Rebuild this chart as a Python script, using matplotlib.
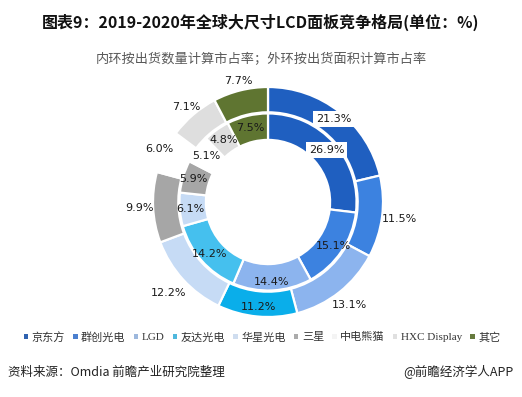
import numpy as np
import matplotlib
matplotlib.use("Agg")
import matplotlib.pyplot as plt
from matplotlib.patches import Patch

plt.rcParams['font.family'] = ['Noto Sans CJK SC', 'DejaVu Sans']

# ---------------- data ----------------
companies = ['京东方', '群创光电', 'LGD', '友达光电', '华星光电', '三星', '中电熊猫', 'HXC Display', '其它']
inner_share = [26.9, 15.1, 14.4, 14.2, 6.1, 5.9, 5.1, 4.8, 7.5]     # by shipment quantity
outer_share = [21.3, 11.5, 13.1, 11.2, 12.2, 9.9, 6.0, 7.1, 7.7]    # by shipment area

title = '图表9：2019-2020年全球大尺寸LCD面板竞争格局(单位：%)'
subtitle = '内环按出货数量计算市占率；外环按出货面积计算市占率'
source = '资料来源：Omdia 前瞻产业研究院整理'
credit = '@前瞻经济学人APP'

# ---------------- style ----------------
outer_colors = ['#1F5FC0', '#3C82E0', '#8CB4EE', '#0AAEEA', '#C6DBF5',
                '#A6A6A6', '#FFFFFF', '#DEDEDE', '#5F7531']
inner_colors = ['#1F5FC0', '#3C82E0', '#8CB4EE', '#45C0EE', '#C6DBF5',
                '#A6A6A6', '#FFFFFF', '#DEDEDE', '#5F7531']
legend_colors = ['#2F62B0', '#4A7FCF', '#9DB8DD', '#4FB8DD', '#CFDDEF',
                 '#ABABAB', '#F4F4F4', '#E0E0E0', '#667A3E']
outer_label_r = [0.92, 1.15, 1.14, 0.92, 1.17, 1.12, 1.05, 1.09, 1.08]
inner_label_r = [0.68, 0.69, 0.70, 0.68, 0.68, 0.68, 0.67, 0.66, 0.66]
boxed_outer = [True] + [False] * 8
boxed_inner = [True] + [False] * 8

W, H = 522, 397
fig = plt.figure(figsize=(W / 100, H / 100), dpi=100)
fig.patch.set_facecolor('white')

cx, cy, R = 268, 202, 115
ax = fig.add_axes([(cx - R) / W, (H - cy - R) / H, 2 * R / W, 2 * R / H])
ax.set_xlim(-1, 1)
ax.set_ylim(-1, 1)
ax.set_aspect('equal')
ax.axis('off')

wp = dict(edgecolor='white', linewidth=1.6)
ax.pie(outer_share, radius=1.0, colors=outer_colors, startangle=90, counterclock=False,
       wedgeprops=dict(width=0.22, **wp))
ax.pie(inner_share, radius=0.77, colors=inner_colors, startangle=90, counterclock=False,
       wedgeprops=dict(width=0.23, **wp))
ax.set_xlim(-1, 1)
ax.set_ylim(-1, 1)


def put_labels(values, radii, boxed):
    total = float(sum(values))
    cum = np.cumsum([0] + list(values))
    for i, v in enumerate(values):
        mid = (cum[i] + cum[i + 1]) / 2 / total * 360.0
        ang = np.deg2rad(90 - mid)
        x, y = radii[i] * np.cos(ang), radii[i] * np.sin(ang)
        kw = {}
        if boxed[i]:
            kw['bbox'] = dict(boxstyle='square,pad=0.25', facecolor='white', edgecolor='none')
        ax.text(x, y, f'{v:.1f}%', ha='center', va='center', fontsize=8,
                family=['DejaVu Sans'], color='#1a1a1a', clip_on=False, **kw)


put_labels(outer_share, outer_label_r, boxed_outer)
put_labels(inner_share, inner_label_r, boxed_inner)

fig.text(0.5, 1 - 22 / H, title, ha='center', va='center', fontsize=11.5,
         fontweight='bold', color='#111111')
fig.text(0.5, 1 - 60 / H, subtitle, ha='center', va='center', fontsize=9.5,
         color='#595959')

handles = [Patch(facecolor=c, edgecolor='none') for c in legend_colors]
fig.legend(handles, companies, loc='center', bbox_to_anchor=(0.502, 1 - 337 / H),
           ncol=9, frameon=False, handlelength=0.4, handleheight=0.4,
           handletextpad=0.3, columnspacing=0.75,
           prop=dict(family=['Liberation Serif', 'Noto Sans CJK SC'], size=8),
           labelcolor='#333333')

fig.text(8 / W, 1 - 372 / H, source, ha='left', va='center', fontsize=9, color='#222222')
fig.text(1 - 8 / W, 1 - 372 / H, credit, ha='right', va='center', fontsize=9, color='#222222')

fig.savefig('out.png', dpi=100, facecolor='white')
